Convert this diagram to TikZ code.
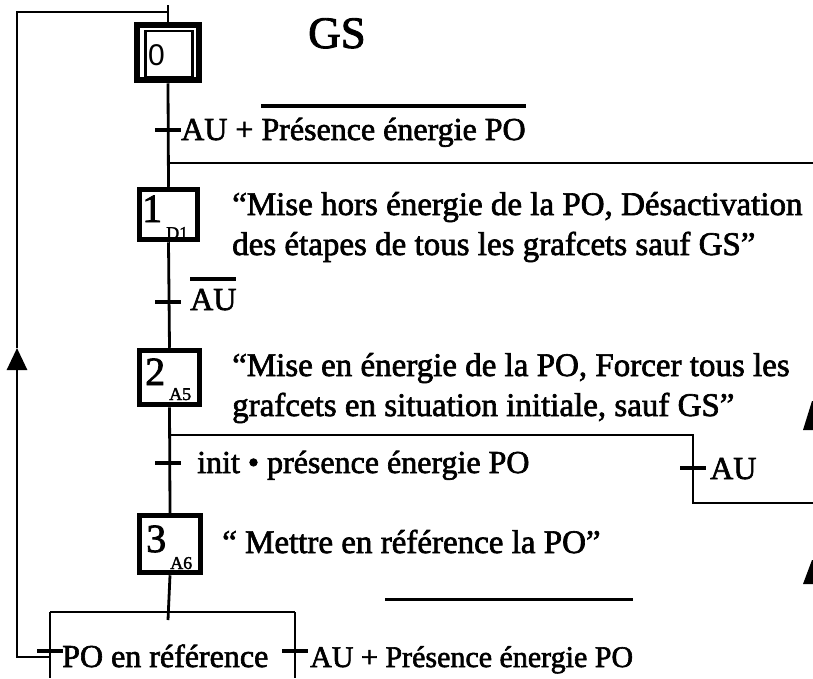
\documentclass[tikz,border=0pt]{standalone}
\usepackage{fontspec}
\setmainfont{Liberation Serif}[FakeBold=2]
\newfontfamily\sansf{Liberation Sans}
\usetikzlibrary{arrows.meta,calc}
\newcommand\ovl[2][10pt]{\leavevmode\vbox{\hrule height 3.5pt\kern #1\hbox{#2}}}
\begin{document}
\begin{tikzpicture}[x=1pt,y=-1pt,
  wire/.style={line width=2.8pt},
  tickmark/.style={line width=4.5pt},
  stepbox/.style={draw, line width=5.5pt, inner sep=0pt, minimum width=59pt, minimum height=52pt},
  txt/.style={anchor=base west, inner sep=0pt, font=\fontsize{32}{40}\selectfont},
  desc/.style={anchor=base west, inner sep=0pt, font=\fontsize{33}{40}\selectfont},
  num/.style={anchor=base west, inner sep=0pt, font=\fontsize{40}{44}\selectfont},
  sub/.style={anchor=base west, inner sep=0pt, font=\fontsize{18}{20}\selectfont}
]
\useasboundingbox (0,0) rectangle (813,678);

% steps
\node[draw, line width=6.5pt, inner sep=0pt, minimum width=62pt, minimum height=55pt] (s0) at (168,52.5) {};
\node[draw, line width=2.5pt, inner sep=0pt, minimum width=47pt, minimum height=46pt] (s0i) at (169,54) {};
\node[anchor=base west, inner sep=0pt, font=\sansf\fontsize{30}{32}\selectfont] (n0) at (148,65) {0};

\node[stepbox, minimum width=58pt, minimum height=50pt] (s1) at (168.5,214.5) {};
\node[num] (n1) at (142,222) {1};
\node[sub] (x1) at (166,239) {D1};

\node[stepbox, minimum width=60pt, minimum height=54pt] (s2) at (169.5,377.5) {};
\node[num] (n2) at (145,385) {2};
\node[sub] (x2) at (169,400) {A5};

\node[stepbox, minimum width=61pt, minimum height=57pt] (s3) at (170,544) {};
\node[num] (n3) at (146,552) {3};
\node[sub] (x3) at (170,569) {A6};

% title
\node[anchor=base west, inner sep=0pt, font=\fontsize{45}{50}\selectfont] (gs) at (308,48) {GS};

% coordinates
\coordinate (top) at (168,5);
\coordinate (loopTR) at (168,12);
\coordinate (loopTL) at (17,12);
\coordinate (loopBL) at (17,657);
\coordinate (arrowTip) at (17,348);
\coordinate (t1) at (168,130);
\coordinate (j1) at (168,163);
\coordinate (j1e) at (813,163);
\coordinate (t2) at (168,302);
\coordinate (d2) at (168,435);
\coordinate (d2r) at (693,435);
\coordinate (t3) at (168,463);
\coordinate (tAU) at (693,468);
\coordinate (d2rb) at (693,503);
\coordinate (d2re) at (813,503);
\coordinate (stub) at (168,620);
\coordinate (d3) at (168,612);
\coordinate (d3l) at (50,612);
\coordinate (d3r) at (295,612);
\coordinate (d3lb) at (50,678);
\coordinate (d3rb) at (295,678);
\coordinate (tL) at (50,651);
\coordinate (tR) at (295,651);
\coordinate (loopB) at (50,657);

% wires
\draw[wire] (s0.north) -- (top);
\draw[wire] (s0.south) -- (s1.north);
\draw[wire] (j1) -- (j1e);
\draw[wire] (s1.south) -- (s2.north);
\draw[wire] (s2.south) -- (s3.north);
\draw[wire] (d2) -- (d2r) -- (d2rb) -- (d2re);
\draw[wire] (s3.south) -- (stub);
\draw[wire] (d3l) -- (d3r);
\draw[wire] (d3l) -- (d3lb);
\draw[wire] (d3r) -- (d3rb);
\draw[wire, -{Triangle[length=22pt,width=20pt]}] (loopB) -- (loopBL) -- (arrowTip);
\draw[wire] (arrowTip) -- (loopTL) -- (loopTR);

% ticks
\foreach \c in {t1,t2,t3,tAU,tL,tR}
  \draw[tickmark] ($(\c)+(-13,0)$) -- ($(\c)+(13,0)$);

% labels
\node[txt] (l1) at (181,140) {AU + \ovl{Présence énergie PO}};
\node[txt] (l2) at (190,310) {\ovl[8pt]{AU}};
\node[txt] (l3) at (197,473) {init • présence énergie PO};
\node[txt] (l4) at (710,479) {AU};
\node[txt] (l5) at (62,667) {PO en référence};
\node[txt, font=\fontsize{30}{36}\selectfont] (l6) at (310,667) {AU + \ovl[45pt]{Présence énergie PO}};

% descriptions
\node[desc] (d1a) at (232,215) {“Mise hors énergie de la PO, Désactivation};
\node[desc] (d1b) at (232,255) {des étapes de tous les grafcets sauf GS”};
\node[desc] (d2a) at (232,376) {“Mise en énergie de la PO, Forcer tous les};
\node[desc] (d2b) at (232,416) {grafcets en situation initiale, sauf GS”};
\node[desc] (d3a) at (222,553) {“ Mettre en référence la PO”};

% cropped arrowheads at right edge
\fill (803,430) -- (812,401) -- (813,401) -- (813,430) -- cycle;
\fill (803,584) -- (812,560) -- (813,560) -- (813,584) -- cycle;
\end{tikzpicture}
\end{document}
